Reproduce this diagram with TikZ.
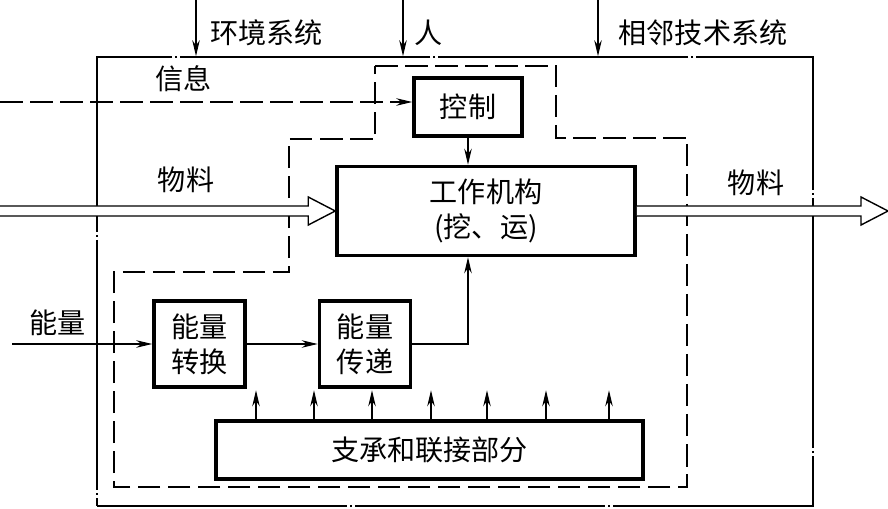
\documentclass[tikz,border=0pt]{standalone}
\usepackage{fontspec}
\newfontfamily\cjk{Noto Sans CJK SC}
\usetikzlibrary{arrows.meta}
\begin{document}
\begin{tikzpicture}[every node/.style={font=\cjk\fontsize{16}{20}\selectfont},
  unit/.style={draw, fill=white, line width=2pt, align=center, inner sep=0pt},
  link/.style={line width=0.8pt, -{Stealth[length=3.2mm,width=1.5mm]}},
  fatarrow/.style={line width=0.8pt, fill=white},
  border/.style={line width=0.9pt, dash pattern=on 5cm off 0.6mm on 0.4mm off 0.6mm},
  hidden/.style={line width=0.8pt, dash pattern=on 4.5mm off 1.5mm}]
  \useasboundingbox (0,0) rectangle (17.76,10.16);
  \node[draw, border, minimum width=14.32cm, minimum height=8.98cm] (sys) at (9.10,4.53) {};
  \draw[hidden] (7.50,8.84) -- (11.12,8.84) -- (11.12,7.40) -- (13.74,7.40) -- (13.74,0.42)
    -- (2.28,0.42) -- (2.28,4.72) -- (5.78,4.72) -- (5.78,7.38) -- (7.50,7.38) -- cycle;

  \node[unit, minimum width=2.16cm, minimum height=1.16cm] (ctrl) at (9.36,8.02) {控制};
  \node[unit, minimum width=5.96cm, minimum height=1.78cm] (work) at (9.72,5.94) {工作机构\\(挖、运)};
  \node[unit, minimum width=1.82cm, minimum height=1.72cm] (conv) at (3.99,3.28) {能量\\转换};
  \node[unit, minimum width=1.82cm, minimum height=1.72cm] (trans) at (7.30,3.28) {能量\\传递};
  \node[unit, minimum width=8.54cm, minimum height=1.16cm] (base) at (8.59,1.16) {支承和联接部分};

  \coordinate (envin) at (3.92,10.16);
  \coordinate (manin) at (8.06,10.16);
  \coordinate (nbin) at (11.96,10.16);
  \draw[link] (envin) -- (envin |- sys.north);
  \draw[link] (manin) -- (manin |- sys.north);
  \draw[link] (nbin) -- (nbin |- sys.north);
  \node (envlbl) at (5.33,9.50) {环境系统};
  \node (manlbl) at (8.58,9.50) {人};
  \node (nblbl) at (14.06,9.50) {相邻技术系统};

  \coordinate (infoin) at (0,8.12);
  \draw[link, hidden] (infoin) -- (infoin -| ctrl.west);
  \node (infolbl) at (3.67,8.58) {信息};
  \draw[link] (ctrl.south) -- (ctrl.south |- work.north);

  \coordinate (matin) at (0,5.94);
  \coordinate (matout) at (17.76,5.94);
  \path (work.west) ++(-0.54,0) coordinate (hin);
  \path (matout) ++(-0.54,0) coordinate (hout);
  \draw[fatarrow] ([yshift=1mm]matin) -- ([yshift=1mm]hin) -- ([yshift=2.8mm]hin) -- (work.west)
    -- ([yshift=-2.8mm]hin) -- ([yshift=-1mm]hin) -- ([yshift=-1mm]matin);
  \draw[fatarrow] ([yshift=1mm]work.east) -- ([yshift=1mm]hout) -- ([yshift=2.8mm]hout) -- (matout)
    -- ([yshift=-2.8mm]hout) -- ([yshift=-1mm]hout) -- ([yshift=-1mm]work.east);
  \node (matinlbl) at (3.72,6.56) {物料};
  \node (matoutlbl) at (15.12,6.50) {物料};

  \coordinate (enin) at (0.24,3.28);
  \node (enlbl) at (1.15,3.70) {能量};
  \draw[link] (enin) -- (conv.west);
  \draw[link] (conv.east) -- (trans.west);
  \draw[link] (trans.east) -| (ctrl |- work.south);
  \foreach \x in {5.12,6.28,7.44,8.62,9.74,10.92,12.18}
    \draw[link] (base.north -| \x,0) -- ++(0,0.58);
\end{tikzpicture}
\end{document}
